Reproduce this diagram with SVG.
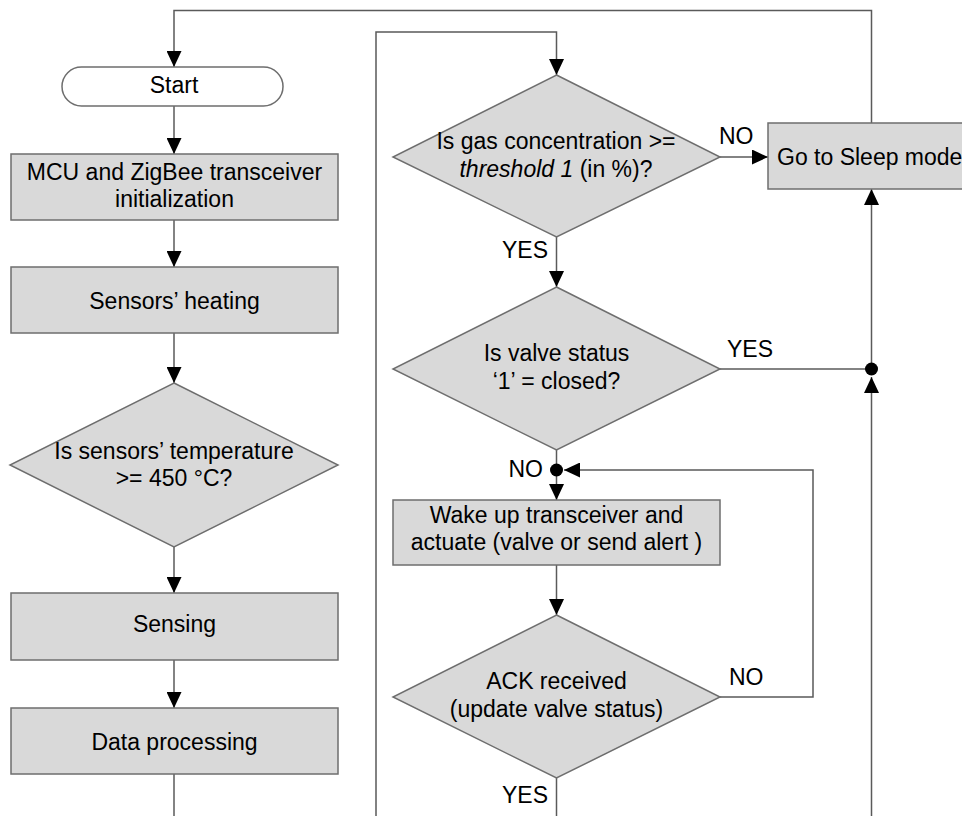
<svg xmlns="http://www.w3.org/2000/svg" width="962" height="816" viewBox="0 0 962 816">
<defs>
<style>
.box{fill:#d9d9d9;stroke:#6e6e6e;stroke-width:1.5}
.ln{fill:none;stroke:#5a5a5a;stroke-width:1.5}
.t{font-family:"Liberation Sans",Arial,sans-serif;font-size:23px;fill:#000;text-anchor:middle}
.lbl{font-family:"Liberation Sans",Arial,sans-serif;font-size:23px;fill:#000}
</style>
<marker id="ah" viewBox="0 0 16 15" refX="16" refY="7.5" markerWidth="16" markerHeight="15" markerUnits="userSpaceOnUse" orient="auto">
<path d="M0,0 L16,7.5 L0,15 Z" fill="#000"/>
</marker>
</defs>
<rect width="962" height="816" fill="#fff"/>
<g id="connectors">
<path class="ln" d="M871.5,123 V10.5 H174 V67" marker-end="url(#ah)"/>
<path class="ln" d="M174,106 V154" marker-end="url(#ah)"/>
<path class="ln" d="M174,220 V267" marker-end="url(#ah)"/>
<path class="ln" d="M174,333 V383" marker-end="url(#ah)"/>
<path class="ln" d="M174,547 V593" marker-end="url(#ah)"/>
<path class="ln" d="M174,660 V708" marker-end="url(#ah)"/>
<path class="ln" d="M174,774 V816"/>
<path class="ln" d="M376,816 V32 H556.5 V75" marker-end="url(#ah)"/>
<path class="ln" d="M720,157 H768" marker-end="url(#ah)"/>
<path class="ln" d="M556.5,237 V287" marker-end="url(#ah)"/>
<path class="ln" d="M720,369 H871.5"/>
<path class="ln" d="M871.5,369 V189" marker-end="url(#ah)"/>
<path class="ln" d="M871.5,816 V377" marker-end="url(#ah)"/>
<circle cx="871.5" cy="369" r="6.5" fill="#000"/>
<path class="ln" d="M556.5,450 V500" marker-end="url(#ah)"/>
<path class="ln" d="M720,697 H813 V470 H564" marker-end="url(#ah)"/>
<circle cx="556.5" cy="470" r="6.5" fill="#000"/>
<path class="ln" d="M556.5,565 V615" marker-end="url(#ah)"/>
<path class="ln" d="M556.5,778 V816"/>
<text class="lbl" x="719" y="144">NO</text>
<text class="lbl" x="548" y="258" text-anchor="end">YES</text>
<text class="lbl" x="727" y="357">YES</text>
<text class="lbl" x="543" y="477" text-anchor="end">NO</text>
<text class="lbl" x="729" y="685">NO</text>
<text class="lbl" x="548" y="803" text-anchor="end">YES</text>
</g>
<g id="start">
<rect x="62" y="67" width="221" height="39" rx="19.5" ry="19.5" fill="#fff" stroke="#6e6e6e" stroke-width="1.5"/>
<text class="t" x="174" y="93">Start</text>
</g>
<g id="init">
<rect class="box" x="11" y="154" width="327" height="66"/>
<text class="t" x="174.5" y="180">MCU and ZigBee transceiver</text>
<text class="t" x="174.5" y="207">initialization</text>
</g>
<g id="heating">
<rect class="box" x="11" y="267" width="327" height="66"/>
<text class="t" x="174.5" y="309">Sensors’ heating</text>
</g>
<g id="tempcheck">
<path class="box" d="M174,383 L338,465 L174,547 L10,465 Z"/>
<text class="t" x="174" y="459">Is sensors’ temperature</text>
<text class="t" x="174" y="486">&gt;= 450 °C?</text>
</g>
<g id="sensing">
<rect class="box" x="11" y="593" width="327" height="67"/>
<text class="t" x="174.5" y="632">Sensing</text>
</g>
<g id="processing">
<rect class="box" x="11" y="708" width="327" height="66"/>
<text class="t" x="174.5" y="750">Data processing</text>
</g>
<g id="gascheck">
<path class="box" d="M556.5,75 L720,157 L556.5,237 L393,157 Z"/>
<text class="t" x="556" y="149">Is gas concentration &gt;=</text>
<text class="t" x="556" y="177"><tspan font-style="italic">threshold 1</tspan> (in %)?</text>
</g>
<g id="sleep">
<rect class="box" x="768" y="123" width="220" height="66"/>
<text class="lbl" x="777" y="165">Go to Sleep mode</text>
</g>
<g id="valvecheck">
<path class="box" d="M556.5,287 L720,369 L556.5,450 L393,369 Z"/>
<text class="t" x="556.5" y="361">Is valve status</text>
<text class="t" x="556.5" y="389">‘1’ = closed?</text>
</g>
<g id="actuate">
<rect class="box" x="393" y="500" width="327" height="65"/>
<text class="t" x="556.5" y="523">Wake up transceiver and</text>
<text class="t" x="556.5" y="550">actuate (valve or send alert )</text>
</g>
<g id="ackcheck">
<path class="box" d="M556.5,615 L720,697 L556.5,778 L393,697 Z"/>
<text class="t" x="556.5" y="689">ACK received</text>
<text class="t" x="556.5" y="717">(update valve status)</text>
</g>
</svg>
